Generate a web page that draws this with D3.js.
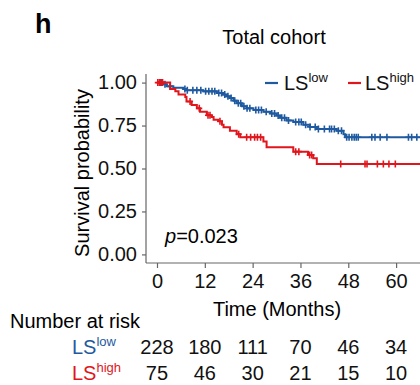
<!DOCTYPE html>
<html><head><meta charset="utf-8">
<script src="https://cdn.jsdelivr.net/npm/d3@7/dist/d3.min.js"></script>
<style>body{margin:0;background:#fff}svg{display:block;font-family:"Liberation Sans",Arial,sans-serif}</style>
</head><body><svg id="c" width="420" height="385"></svg>
<script>
const groups = ["low", "high"];
const colors = ["#1f5aa0", "#e0161c"];
const lowTimes = [0,1.5,2.4,4.1,6.6,7.4,11.6,15.0,16.6,17.5,18.3,19.2,20.0,21.3,22.5,24.2,26.7,28.4,30.0,30.9,32.5,34.2,36.7,38.4,40.1,45.1,46.8,47.2,70];
const lowSurv  = [1.0,0.99,0.978,0.97,0.963,0.955,0.949,0.94,0.93,0.92,0.91,0.895,0.88,0.862,0.85,0.84,0.83,0.82,0.808,0.795,0.78,0.77,0.755,0.742,0.73,0.72,0.70,0.682,0.682];
const highTimes = [0,3.3,4.6,5.4,7.1,7.4,8.7,10.0,10.8,12.5,13.7,14.2,15.4,16.3,16.7,18.3,20.0,20.9,26.7,27.5,34.2,37.9,39.2,40.1,70];
const highSurv  = [1.0,0.963,0.949,0.93,0.916,0.89,0.87,0.85,0.83,0.81,0.80,0.784,0.775,0.755,0.74,0.72,0.70,0.682,0.657,0.624,0.598,0.579,0.56,0.526,0.526];
const lowCensor = [0.8,1.2,2.0,3.3,7.0,7.6,9.0,10.0,11.0,12.2,13.0,13.8,14.5,15.5,16.2,17.0,17.8,18.6,19.5,20.4,21.0,21.8,22.6,23.3,24.8,25.5,26.2,27.4,28.8,29.5,30.4,31.3,32.0,33.0,34.8,35.6,36.2,37.3,38.4,39.7,40.5,42.0,43.3,43.8,44.5,45.5,46.3,47.6,48.2,48.9,49.5,50.0,50.5,53.9,54.7,56.0,57.7,63.1,63.9,65.2];
const highCensor = [0.2,0.6,1.0,1.4,8.3,10.6,12.8,13.3,15.8,20.5,22.5,23.5,24.5,25.2,26.0,34.8,35.6,38.3,38.8,46.1,52.2,52.7,55.3,56.8,58.2,59.8];
const xTicks = [0,12,24,36,48,60];
const yTicks = [0,0.25,0.5,0.75,1];
const riskLow = [228,180,111,70,46,34];
const riskHigh = [75,46,30,21,15,10];

const svg = d3.select("#c");
const x = d3.scaleLinear().domain([-2.76, 67]).range([146, 424]);
const y = d3.scaleLinear().domain([-0.05, 1.05]).range([263, 74]);
const axisCol = "#666";

svg.append("defs").append("clipPath").attr("id","clip")
  .append("rect").attr("x",146).attr("y",60).attr("width",280).attr("height",210);

// title & panel letter
svg.append("text").attr("x",35).attr("y",33).attr("font-size",27).attr("font-weight","bold").text("h");
svg.append("text").attr("x",274).attr("y",44).attr("text-anchor","middle").attr("font-size",20).text("Total cohort");

// axes
const yAxis = svg.append("g").attr("transform","translate(146,0)")
  .call(d3.axisLeft(y).tickValues(yTicks).tickFormat(d3.format(".2f")).tickSize(4).tickPadding(5));
const xAxis = svg.append("g").attr("transform","translate(0,263)")
  .call(d3.axisBottom(x).tickValues(xTicks).tickSize(5).tickPadding(6));
[yAxis, xAxis].forEach(g => {
  g.select(".domain").attr("stroke",axisCol).attr("stroke-width",1.2);
  g.selectAll(".tick line").attr("stroke",axisCol).attr("stroke-width",1.2);
  g.selectAll("text").attr("font-size",20).attr("fill","#111").attr("font-family","Liberation Sans, Arial, sans-serif");
});
yAxis.select(".domain").attr("d","M0,74V263");
xAxis.select(".domain").attr("d","M146,0H424");

svg.append("text").attr("transform","translate(89,173) rotate(-90)").attr("text-anchor","middle")
  .attr("font-size",20).text("Survival probability");
svg.append("text").attr("x",277).attr("y",316).attr("text-anchor","middle").attr("font-size",20).text("Time (Months)");

// curves
const plot = svg.append("g").attr("clip-path","url(#clip)");
const series = [[lowTimes,lowSurv,lowCensor],[highTimes,highSurv,highCensor]];
const line = d3.line().x(d=>x(d[0])).y(d=>y(d[1])).curve(d3.curveStepAfter);
series.forEach(([t,s,c],i) => {
  const pts = t.map((v,k)=>[v,s[k]]);
  plot.append("path").attr("d",line(pts)).attr("fill","none").attr("stroke",colors[i]).attr("stroke-width",2);
  const survAt = tt => { let v=s[0]; for(let k=0;k<t.length;k++){ if(t[k]<=tt) v=s[k]; } return v; };
  plot.selectAll(null).data(c).enter().append("path")
    .attr("d",d=>{const cx=x(d), cy=y(survAt(d)); return `M${cx-3},${cy}H${cx+3}M${cx},${cy-3.5}V${cy+3.5}`;})
    .attr("stroke",colors[i]).attr("stroke-width",1.6).attr("fill","none");
});

// legend
const leg = [[265,284],[348,365]];
groups.forEach((g,i)=>{
  svg.append("line").attr("x1",leg[i][0]).attr("x2",leg[i][0]+13).attr("y1",83).attr("y2",83)
    .attr("stroke",colors[i]).attr("stroke-width",2.2);
  const t = svg.append("text").attr("x",leg[i][1]).attr("y",89.5).attr("font-size",20).attr("fill","#111");
  t.append("tspan").text("LS");
  t.append("tspan").attr("font-size",13).attr("dy",-8).text(g);
});

svg.append("text").attr("x",165).attr("y",243).attr("font-size",20)
  .call(t=>{t.append("tspan").attr("font-style","italic").text("p"); t.append("tspan").text("=0.023");});

svg.append("text").attr("x",10).attr("y",328).attr("font-size",20).text("Number at risk");
[[riskLow,354],[riskHigh,380]].forEach(([vals,yy],i)=>{
  const t = svg.append("text").attr("x",72).attr("y",yy).attr("font-size",20).attr("fill",colors[i]);
  t.append("tspan").text("LS");
  t.append("tspan").attr("font-size",13).attr("dy",-8).text(groups[i]);
  svg.selectAll(null).data(vals).enter().append("text")
    .attr("x",(d,k)=>x(xTicks[k])).attr("y",yy).attr("text-anchor","middle").attr("font-size",20).attr("fill","#111").text(d=>d);
});
</script></body></html>
